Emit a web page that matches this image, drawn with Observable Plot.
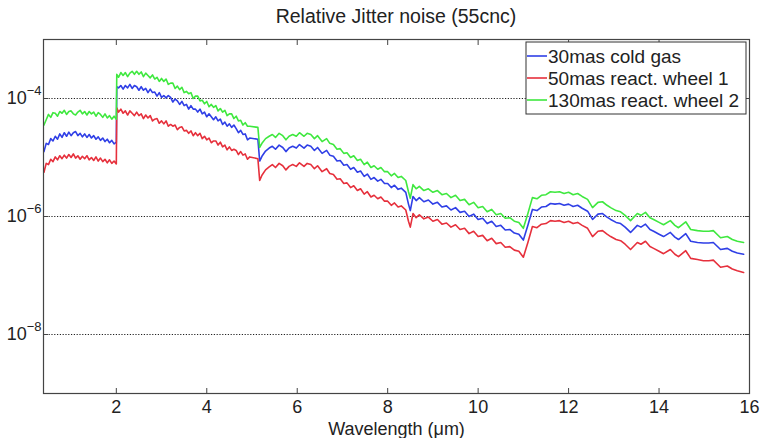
<!DOCTYPE html>
<html><head><meta charset="utf-8">
<script src="https://cdn.jsdelivr.net/npm/d3@7"></script>
<script src="https://cdn.jsdelivr.net/npm/@observablehq/plot@0.6"></script>
<style>
body{margin:0;background:#fff;}
#wrap{width:760px;height:438px;}
</style></head><body>
<div id="wrap"></div>
<script>
const chartTitle = "Relative Jitter noise (55cnc)";
const xLabel = "Wavelength (μm)";
const seriesNames = ["30mas cold gas", "50mas react. wheel 1", "130mas react. wheel 2"];
const xTicks = [2, 4, 6, 8, 10, 12, 14, 16];
const yTicks = [1e-4, 1e-6, 1e-8];
const yTickExponents = ["−4", "−6", "−8"];

// wavelength (µm)
const wavelength = [
  // 0.4 – 2 µm
  0.40,0.45,0.50,0.55,0.60,0.65,0.70,0.75,0.80,0.85,
  0.90,0.95,1.00,1.05,1.10,1.15,1.20,1.25,1.30,1.35,
  1.40,1.45,1.50,1.55,1.60,1.65,1.70,1.75,1.80,1.85,
  1.90,1.95,2.00,
  // 2 – 5 µm
  2.01,2.05,2.10,2.15,2.20,2.25,2.30,2.35,2.40,2.45,
  2.50,2.55,2.60,2.65,2.70,2.75,2.80,2.85,2.90,2.95,
  3.00,3.05,3.10,3.15,3.20,3.25,3.30,3.35,3.40,3.45,
  3.50,3.55,3.60,3.65,3.70,3.75,3.80,3.85,3.90,3.95,
  4.00,4.05,4.10,4.15,4.20,4.25,4.30,4.35,4.40,4.45,
  4.50,4.55,4.60,4.65,4.70,4.75,4.80,4.85,4.90,4.95,
  5.13,
  // 5 – 16 µm
  5.17,5.22,5.30,5.38,5.45,5.52,5.60,5.68,5.75,5.82,
  5.90,5.98,6.05,6.15,6.22,6.30,6.38,6.45,6.55,6.65,
  6.72,6.80,6.88,6.95,7.03,7.10,7.18,7.25,7.33,7.40,
  7.48,7.55,7.63,7.70,7.78,7.85,7.93,8.00,8.08,8.15,
  8.23,8.30,8.40,8.46,8.50,8.56,8.63,8.70,8.80,8.90,
  9.00,9.10,9.20,9.30,9.40,9.50,9.60,9.70,9.80,9.90,
  10.00,10.10,10.20,10.30,10.40,10.50,10.60,10.70,10.80,10.90,
  11.00,11.10,11.20,11.30,11.40,11.50,11.60,11.70,11.80,11.90,
  12.00,12.10,12.20,12.30,12.42,12.53,12.65,12.75,12.85,12.93,
  13.05,13.15,13.25,13.37,13.52,13.60,13.70,13.80,13.88,14.00,
  14.10,14.25,14.35,14.43,14.59,14.70,14.85,14.98,15.10,15.20,
  15.36,15.51,15.62,15.73,15.87
];

// log10 of relative jitter noise
const coldGasLog = [
  -4.90,-4.76,-4.78,-4.68,-4.72,-4.64,-4.69,-4.60,-4.66,-4.58,
  -4.64,-4.57,-4.63,-4.58,-4.56,-4.63,-4.59,-4.65,-4.60,-4.66,
  -4.61,-4.67,-4.63,-4.69,-4.65,-4.71,-4.67,-4.73,-4.69,-4.75,
  -4.71,-4.77,-4.74,
  -3.80,-3.82,-3.78,-3.84,-3.78,-3.82,-3.76,-3.83,-3.78,-3.80,
  -3.86,-3.80,-3.86,-3.83,-3.90,-3.84,-3.90,-3.89,-3.96,-3.90,
  -3.98,-3.95,-3.99,-3.95,-3.98,-4.06,-4.01,-4.04,-4.10,-4.05,
  -4.12,-4.10,-4.18,-4.12,-4.18,-4.18,-4.23,-4.18,-4.26,-4.23,
  -4.31,-4.26,-4.31,-4.36,-4.31,-4.38,-4.35,-4.44,-4.40,-4.47,
  -4.43,-4.49,-4.45,-4.51,-4.58,-4.54,-4.61,-4.60,-4.70,-4.67,
  -4.69,
  -5.06,-4.98,-4.89,-4.84,-4.81,-4.86,-4.79,-4.83,-4.90,-4.84,
  -4.81,-4.84,-4.78,-4.84,-4.79,-4.81,-4.88,-4.83,-4.93,-4.88,
  -4.96,-4.98,-5.06,-5.05,-5.13,-5.12,-5.20,-5.17,-5.25,-5.23,
  -5.32,-5.28,-5.37,-5.34,-5.40,-5.37,-5.44,-5.44,-5.51,-5.47,
  -5.54,-5.52,-5.59,-5.79,-5.90,-5.66,-5.73,-5.68,-5.75,-5.72,
  -5.79,-5.76,-5.84,-5.82,-5.89,-5.85,-5.93,-5.91,-6.00,-5.96,
  -6.05,-6.03,-6.12,-6.08,-6.17,-6.15,-6.23,-6.22,-6.28,-6.30,
  -6.40,-6.15,-5.88,-5.90,-5.84,-5.83,-5.78,-5.79,-5.78,-5.81,
  -5.79,-5.83,-5.81,-5.86,-5.91,-6.05,-5.96,-5.95,-6.01,-6.05,
  -6.10,-6.12,-6.18,-6.27,-6.15,-6.18,-6.13,-6.22,-6.25,-6.30,
  -6.34,-6.27,-6.35,-6.39,-6.29,-6.42,-6.44,-6.45,-6.45,-6.44,
  -6.56,-6.54,-6.59,-6.62,-6.64
];

const wheel1Log = [
  -5.25,-5.10,-5.12,-5.03,-5.07,-4.99,-5.04,-4.97,-5.02,-4.96,
  -5.01,-4.95,-5.00,-4.94,-5.01,-4.97,-5.03,-4.98,-5.02,-4.97,
  -5.04,-5.00,-5.05,-4.99,-5.06,-5.01,-5.07,-5.03,-5.09,-5.04,
  -5.10,-5.06,-5.11,
  -4.16,-4.23,-4.18,-4.25,-4.21,-4.28,-4.21,-4.25,-4.29,-4.23,
  -4.29,-4.26,-4.34,-4.28,-4.33,-4.29,-4.38,-4.35,-4.34,-4.42,
  -4.38,-4.43,-4.38,-4.47,-4.44,-4.47,-4.45,-4.53,-4.49,-4.48,
  -4.55,-4.54,-4.59,-4.55,-4.63,-4.58,-4.63,-4.59,-4.68,-4.64,
  -4.70,-4.67,-4.75,-4.72,-4.72,-4.79,-4.74,-4.82,-4.79,-4.87,
  -4.82,-4.88,-4.86,-4.88,-4.95,-4.90,-4.96,-4.94,-5.03,-4.99,
  -5.02,
  -5.39,-5.30,-5.21,-5.16,-5.12,-5.17,-5.10,-5.14,-5.21,-5.15,
  -5.12,-5.15,-5.09,-5.15,-5.10,-5.12,-5.19,-5.14,-5.24,-5.19,
  -5.27,-5.29,-5.37,-5.36,-5.44,-5.43,-5.51,-5.48,-5.56,-5.53,
  -5.62,-5.58,-5.67,-5.64,-5.70,-5.67,-5.74,-5.74,-5.81,-5.77,
  -5.84,-5.82,-5.89,-6.08,-6.18,-5.95,-6.02,-5.97,-6.04,-6.01,
  -6.08,-6.05,-6.13,-6.11,-6.18,-6.14,-6.22,-6.20,-6.29,-6.25,
  -6.34,-6.32,-6.41,-6.37,-6.46,-6.44,-6.52,-6.51,-6.57,-6.59,
  -6.69,-6.44,-6.17,-6.19,-6.13,-6.12,-6.07,-6.08,-6.07,-6.10,
  -6.08,-6.12,-6.10,-6.15,-6.20,-6.34,-6.25,-6.24,-6.30,-6.34,
  -6.39,-6.41,-6.47,-6.56,-6.44,-6.47,-6.42,-6.51,-6.54,-6.59,
  -6.63,-6.56,-6.64,-6.68,-6.58,-6.71,-6.73,-6.75,-6.75,-6.74,
  -6.86,-6.84,-6.89,-6.92,-6.95
];

const wheel2Log = [
  -4.45,-4.36,-4.27,-4.32,-4.24,-4.25,-4.30,-4.22,-4.25,-4.20,
  -4.27,-4.22,-4.21,-4.26,-4.28,-4.23,-4.20,-4.26,-4.22,-4.28,
  -4.22,-4.26,-4.23,-4.30,-4.24,-4.27,-4.32,-4.26,-4.33,-4.29,
  -4.35,-4.30,-4.35,
  -3.59,-3.64,-3.56,-3.61,-3.56,-3.63,-3.57,-3.54,-3.59,-3.54,
  -3.59,-3.55,-3.63,-3.57,-3.61,-3.65,-3.60,-3.67,-3.64,-3.71,
  -3.66,-3.71,-3.67,-3.76,-3.74,-3.74,-3.83,-3.79,-3.85,-3.81,
  -3.90,-3.88,-3.92,-3.90,-4.00,-3.96,-3.96,-4.04,-4.03,-4.09,
  -4.05,-4.14,-4.10,-4.15,-4.12,-4.21,-4.17,-4.23,-4.20,-4.29,
  -4.26,-4.26,-4.34,-4.30,-4.38,-4.37,-4.45,-4.41,-4.47,-4.47,
  -4.49,
  -4.83,-4.76,-4.68,-4.64,-4.61,-4.66,-4.59,-4.63,-4.70,-4.64,
  -4.61,-4.64,-4.58,-4.64,-4.59,-4.61,-4.68,-4.63,-4.73,-4.68,
  -4.76,-4.78,-4.86,-4.85,-4.93,-4.92,-5.00,-4.97,-5.05,-5.03,
  -5.12,-5.08,-5.17,-5.14,-5.20,-5.17,-5.24,-5.24,-5.31,-5.27,
  -5.34,-5.32,-5.39,-5.58,-5.69,-5.46,-5.53,-5.49,-5.56,-5.53,
  -5.59,-5.56,-5.63,-5.61,-5.68,-5.64,-5.73,-5.71,-5.80,-5.76,
  -5.85,-5.83,-5.92,-5.88,-5.97,-5.95,-6.03,-6.02,-6.08,-6.10,
  -6.20,-5.95,-5.68,-5.70,-5.64,-5.63,-5.58,-5.59,-5.58,-5.61,
  -5.59,-5.63,-5.61,-5.66,-5.71,-5.85,-5.76,-5.75,-5.81,-5.85,
  -5.90,-5.92,-5.98,-6.07,-5.95,-5.98,-5.93,-6.02,-6.05,-6.10,
  -6.14,-6.07,-6.15,-6.19,-6.09,-6.22,-6.24,-6.25,-6.25,-6.24,
  -6.36,-6.34,-6.39,-6.42,-6.44
];

const seriesLogs = [coldGasLog, wheel1Log, wheel2Log];
const colors = ["#2f3fe6", "#e6303c", "#3fe83f"];
const font = "'Liberation Sans', Arial, Helvetica, sans-serif";

const rows = [];
seriesNames.forEach((name, s) => {
  seriesLogs[s].forEach((v, i) => rows.push({series: name, wl: wavelength[i], noise: Math.pow(10, v)}));
});

const chart = Plot.plot({
  width: 760,
  height: 438,
  marginLeft: 43,
  marginRight: 11,
  marginTop: 39,
  marginBottom: 45,
  style: {fontFamily: font, fontSize: "18px", color: "#222", background: "#fff", overflow: "visible"},
  x: {domain: [0.39, 16], label: null},
  y: {type: "log", domain: [1e-9, 1e-3], label: null},
  color: {domain: seriesNames, range: colors},
  marks: [
    Plot.ruleY(yTicks, {stroke: "#222", strokeDasharray: "1.2,1.6", strokeWidth: 1}),
    Plot.line(rows, {x: "wl", y: "noise", z: "series", stroke: "series", strokeWidth: 1.6}),
    Plot.frame({stroke: "#444", strokeWidth: 1.2}),
    Plot.axisX({anchor: "bottom", ticks: xTicks, tickSize: -5, tickPadding: 11.5, stroke: "#444", fontSize: 18, label: null}),
    Plot.axisX({anchor: "top", ticks: xTicks, tickSize: -5, tickFormat: () => "", stroke: "#444", label: null}),
    Plot.axisY({anchor: "left", ticks: yTicks, tickSize: -5, tickPadding: 7, stroke: "#444", fontSize: 18,
      tickFormat: (d) => "10^" + yTickExponents[yTicks.indexOf(d)], label: null}),
    Plot.axisY({anchor: "right", ticks: yTicks, tickSize: -5, tickFormat: () => "", stroke: "#444", label: null}),
    Plot.text([xLabel], {text: (d) => d, frameAnchor: "bottom", lineAnchor: "bottom", dy: 41, fontSize: 18, fill: "#222"})
  ]
});

document.getElementById("wrap").appendChild(chart);

const svg = d3.select(chart);
// superscripts on y tick labels
svg.selectAll('[aria-label="y-axis tick label"] text').each(function () {
  const t = this.textContent;
  if (!t.includes("^")) return;
  const [base, exp] = t.split("^");
  const sel = d3.select(this);
  sel.text(base);
  sel.append("tspan").attr("dy", -9).attr("font-size", "13px").text(exp);
});

// title
svg.append("text")
  .attr("x", 396).attr("y", 23)
  .attr("text-anchor", "middle")
  .attr("font-family", font).attr("font-size", "19.5px").attr("fill", "#222")
  .text(chartTitle);

// legend box (MATLAB style)
const lg = svg.append("g").attr("font-family", font).attr("font-size", "19px").attr("text-anchor", "start");
lg.append("rect").attr("x", 526).attr("y", 42).attr("width", 220).attr("height", 72)
  .attr("fill", "#fff").attr("stroke", "#333").attr("stroke-width", 1);
seriesNames.forEach((name, i) => {
  const cy = 56 + i * 22;
  lg.append("line").attr("x1", 527).attr("x2", 547).attr("y1", cy).attr("y2", cy)
    .attr("stroke", colors[i]).attr("stroke-width", 1.6);
  lg.append("text").attr("x", 548).attr("y", cy).attr("dy", "0.35em").attr("text-anchor", "start")
    .attr("fill", "#222").text(name);
});
</script>
</body></html>
